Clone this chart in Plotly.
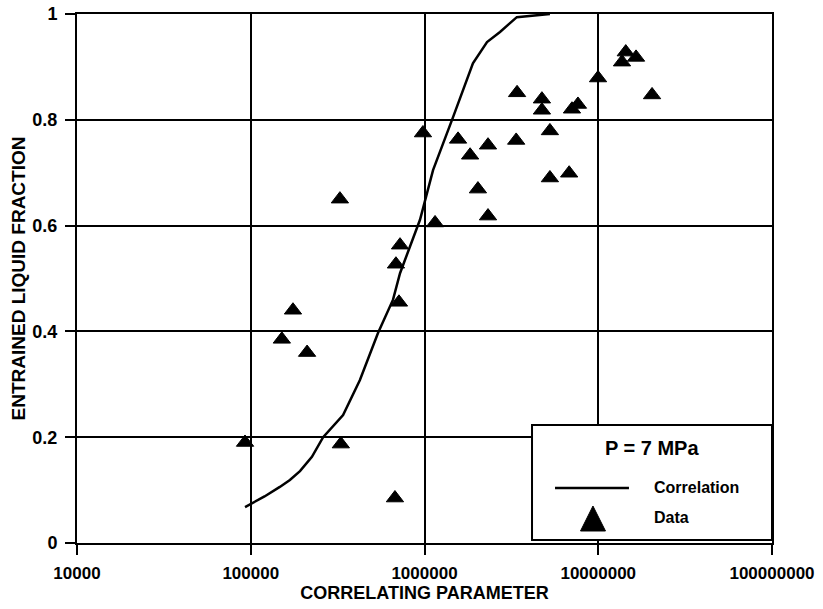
import plotly.graph_objects as go

# Correlation curve (entrained fraction vs. correlating parameter)
corr_x = [92700, 120000, 147000, 168000, 192000, 225000, 261000, 300000, 340000,
          425000, 540000, 659000, 723000, 942000, 1120000, 1460000, 1900000,
          2290000, 2720000, 3400000, 5270000]
corr_y = [0.068, 0.088, 0.106, 0.119, 0.136, 0.163, 0.200, 0.222, 0.242,
          0.308, 0.397, 0.460, 0.510, 0.611, 0.705, 0.805, 0.907,
          0.947, 0.966, 0.994, 1.0]

# Measured data points
data_x = [92700, 151000, 175000, 211000, 330000, 326000, 676000, 685000, 713000,
          723000, 980000, 1150000, 1560000, 1830000, 2030000, 2320000, 2320000,
          3370000, 3410000, 4740000, 4740000, 5270000, 5270000, 6800000, 7060000,
          7640000, 9970000, 13700000, 14400000, 16500000, 20400000]
data_y = [0.19, 0.385, 0.44, 0.36, 0.187, 0.65, 0.085, 0.527, 0.455,
          0.563, 0.775, 0.605, 0.763, 0.733, 0.669, 0.752, 0.618,
          0.761, 0.851, 0.839, 0.818, 0.779, 0.69, 0.699, 0.82,
          0.829, 0.879, 0.909, 0.928, 0.918, 0.847]

x_tickvals = [1e4, 1e5, 1e6, 1e7, 1e8]
x_ticktext = ["10000", "100000", "1000000", "10000000", "100000000"]
y_tickvals = [0, 0.2, 0.4, 0.6, 0.8, 1.0]
y_ticktext = ["0", "0.2", "0.4", "0.6", "0.8", "1"]

legend_title = "P = 7 MPa"
legend_labels = ["Correlation", "Data"]

FONT = "Liberation Sans, Arial, Helvetica, sans-serif"

fig = go.Figure()
fig.add_trace(go.Scatter(
    x=corr_x, y=corr_y, mode="lines", name=legend_labels[0],
    line=dict(color="black", width=2.5),
))
fig.add_trace(go.Scatter(
    x=data_x, y=data_y, mode="markers", name=legend_labels[1],
    marker=dict(symbol="triangle-up", size=15, color="black",
                line=dict(color="black", width=1)),
))

axis_common = dict(
    showgrid=True, gridcolor="black", gridwidth=2,
    showline=True, linecolor="black", linewidth=2, mirror=True,
    ticks="outside", ticklen=10, tickwidth=2, tickcolor="black",
    zeroline=False, automargin=False,
)

fig.update_xaxes(
    type="log", range=[4, 8],
    tickmode="array", tickvals=x_tickvals, ticktext=x_ticktext,
    tickfont=dict(family=FONT, size=17, color="black", weight="bold"),
    ticklabelstandoff=4,
    title=dict(text="CORRELATING PARAMETER", standoff=3,
               font=dict(family=FONT, size=18, color="black", weight="bold")),
    **axis_common,
)
fig.update_yaxes(
    range=[0, 1],
    tickmode="array", tickvals=y_tickvals, ticktext=y_ticktext,
    tickfont=dict(family=FONT, size=18, color="black", weight="bold"),
    ticklabelstandoff=4,
    title=dict(text="ENTRAINED LIQUID FRACTION", standoff=2,
               font=dict(family=FONT, size=19, color="black", weight="bold")),
    **axis_common,
)

# Legend panel drawn in paper coordinates (lower-right corner of the plot)
box = dict(x0=0.6547, x1=1.0, y0=0.0057, y1=0.2231)
shapes = [
    dict(type="rect", xref="paper", yref="paper", layer="above",
         fillcolor="white", line=dict(color="black", width=2), **box),
    dict(type="line", xref="paper", yref="paper", layer="above",
         x0=0.6878, x1=0.7942, y0=0.104, y1=0.104,
         line=dict(color="black", width=2.5)),
    dict(type="path", xref="paper", yref="paper", layer="above",
         path="M 0.7245 0.0227 L 0.7604 0.0227 L 0.7424 0.0699 Z",
         fillcolor="black", line=dict(color="black", width=1)),
]
annotations = [
    dict(text=legend_title, xref="paper", yref="paper", x=0.8273, y=0.1796,
         xanchor="center", yanchor="middle", showarrow=False,
         font=dict(family=FONT, size=20, color="black", weight="bold")),
    dict(text=legend_labels[0], xref="paper", yref="paper", x=0.8273, y=0.104,
         xanchor="left", yanchor="middle", showarrow=False,
         font=dict(family=FONT, size=16, color="black", weight="bold")),
    dict(text=legend_labels[1], xref="paper", yref="paper", x=0.8273, y=0.0473,
         xanchor="left", yanchor="middle", showarrow=False,
         font=dict(family=FONT, size=16, color="black", weight="bold")),
]

fig.update_layout(
    width=823, height=609, autosize=False,
    margin=dict(l=77, r=51, t=14, b=66),
    plot_bgcolor="white", paper_bgcolor="white",
    font=dict(family=FONT, color="black"),
    showlegend=False,
    shapes=shapes,
    annotations=annotations,
)

fig.write_html("out.html")
